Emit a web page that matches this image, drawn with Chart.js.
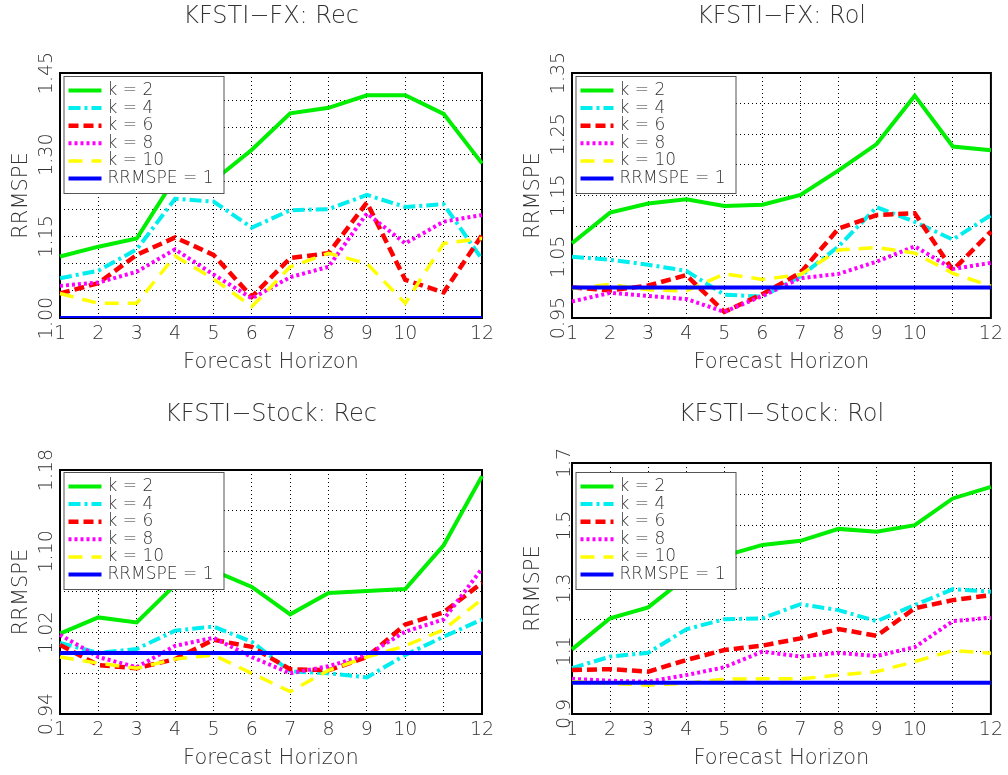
<!DOCTYPE html>
<html>
<head>
<meta charset="utf-8">
<script src="https://cdn.jsdelivr.net/npm/chart.js@4.4.1/dist/chart.umd.min.js"></script>
<style>
  html, body { margin: 0; padding: 0; background: #fff; overflow: hidden; }
  .panel { position: absolute; width: 504px; height: 396px; }
</style>
</head>
<body>
<div class="panel" style="left:0;top:0"><canvas id="fxRec" width="504" height="396"></canvas></div>
<div class="panel" style="left:504px;top:0"><canvas id="fxRol" width="504" height="396"></canvas></div>
<div class="panel" style="left:0;top:396px"><canvas id="stockRec" width="504" height="396"></canvas></div>
<div class="panel" style="left:504px;top:396px"><canvas id="stockRol" width="504" height="396"></canvas></div>
<script>
const horizons = [1, 2, 3, 4, 5, 6, 7, 8, 9, 10, 11, 12];
const refLine = [1, 1, 1, 1, 1, 1, 1, 1, 1, 1, 1, 1];

// KFSTI-FX, recursive
const fxRecK2 = [1.113, 1.131, 1.146, 1.257, 1.252, 1.309, 1.376, 1.386, 1.409, 1.409, 1.375, 1.284];
const fxRecK4 = [1.073, 1.087, 1.126, 1.219, 1.214, 1.166, 1.198, 1.200, 1.226, 1.204, 1.209, 1.108];
const fxRecK6 = [1.045, 1.064, 1.116, 1.148, 1.116, 1.039, 1.110, 1.119, 1.212, 1.070, 1.047, 1.152];
const fxRecK8 = [1.059, 1.065, 1.085, 1.126, 1.080, 1.036, 1.075, 1.094, 1.192, 1.137, 1.177, 1.189];
const fxRecK10 = [1.045, 1.027, 1.027, 1.114, 1.072, 1.021, 1.094, 1.119, 1.100, 1.027, 1.137, 1.146];

// KFSTI-FX, rolling
const fxRolK2 = [1.072, 1.122, 1.137, 1.144, 1.133, 1.135, 1.151, 1.191, 1.234, 1.313, 1.230, 1.224];
const fxRolK4 = [1.050, 1.045, 1.037, 1.027, 0.988, 0.985, 1.018, 1.067, 1.131, 1.107, 1.078, 1.118];
const fxRolK6 = [1.000, 0.995, 1.003, 1.020, 0.960, 0.989, 1.024, 1.096, 1.118, 1.121, 1.028, 1.091];
const fxRolK8 = [0.977, 0.991, 0.986, 0.981, 0.960, 0.986, 1.015, 1.022, 1.042, 1.067, 1.030, 1.040];
const fxRolK10 = [0.998, 1.005, 0.996, 0.994, 1.022, 1.013, 1.021, 1.061, 1.065, 1.056, 1.023, 1.002];

// KFSTI-Stock, recursive
const stRecK2 = [1.019, 1.035, 1.030, 1.067, 1.081, 1.065, 1.038, 1.059, 1.061, 1.063, 1.106, 1.174];
const stRecK4 = [1.010, 1.000, 1.004, 1.022, 1.026, 1.011, 0.982, 0.980, 0.976, 0.998, 1.016, 1.033];
const stRecK6 = [1.008, 0.988, 0.985, 0.994, 1.013, 1.006, 0.984, 0.983, 0.996, 1.028, 1.040, 1.069];
const stRecK8 = [1.018, 0.996, 0.986, 1.007, 1.015, 0.996, 0.980, 0.987, 0.998, 1.021, 1.033, 1.083];
const stRecK10 = [0.996, 0.990, 0.985, 0.994, 0.998, 0.980, 0.962, 0.983, 0.996, 1.007, 1.023, 1.053];

// KFSTI-Stock, rolling
const stRolK2 = [1.106, 1.205, 1.240, 1.336, 1.404, 1.439, 1.452, 1.490, 1.481, 1.502, 1.587, 1.624];
const stRolK4 = [1.046, 1.083, 1.095, 1.170, 1.202, 1.205, 1.250, 1.231, 1.196, 1.247, 1.298, 1.290];
const stRolK6 = [1.040, 1.043, 1.035, 1.072, 1.104, 1.118, 1.141, 1.171, 1.149, 1.237, 1.263, 1.279];
const stRolK8 = [1.012, 1.006, 1.003, 1.024, 1.049, 1.099, 1.083, 1.095, 1.085, 1.113, 1.196, 1.207];
const stRolK10 = [1.003, 0.998, 0.992, 0.998, 1.011, 1.012, 1.012, 1.024, 1.035, 1.067, 1.102, 1.094];

const seriesNames = ['k = 2', 'k = 4', 'k = 6', 'k = 8', 'k = 10', 'RRMSPE = 1'];
const seriesColors = ['#00ee00', '#00eeee', '#ff0000', '#ff00ff', '#ffff00', '#0000ff'];
const seriesDashes = [[], [12, 4, 3, 4], [10, 5], [3, 3], [14, 9], []];
const seriesWidths = [4, 4, 4.5, 4, 3.5, 4];

const FONT = "'DejaVu Sans', sans-serif";
const WEIGHT = 200;
const TEXT = '#333';

// black frame round the plot
const framePlugin = {
  id: 'frame',
  beforeDatasetsDraw(chart) {
    const { ctx, chartArea: a } = chart;
    ctx.save();
    ctx.strokeStyle = '#000';
    ctx.lineWidth = 2;
    ctx.strokeRect(a.left, a.top, a.right - a.left, a.bottom - a.top);
    ctx.restore();
  },
};

// boxed legend in the top left corner of the plot
const boxLegend = {
  id: 'boxLegend',
  afterDatasetsDraw(chart) {
    const { ctx, chartArea: a } = chart;
    const x0 = a.left + 3.5, y0 = 76, w = 160, h = 117;
    ctx.save();
    ctx.fillStyle = '#fff';
    ctx.fillRect(x0, y0, w, h);
    ctx.strokeStyle = '#555';
    ctx.lineWidth = 1;
    ctx.strokeRect(x0 + 0.5, y0 + 0.5, w, h);
    ctx.font = WEIGHT + ' 17px ' + FONT;
    ctx.textBaseline = 'middle';
    chart.data.datasets.forEach((ds, i) => {
      const y = y0 + 14.5 + i * 17.6;
      ctx.strokeStyle = ds.borderColor;
      ctx.lineWidth = ds.borderWidth;
      ctx.setLineDash(ds.borderDash);
      ctx.beginPath();
      ctx.moveTo(x0 + 5, y);
      ctx.lineTo(x0 + 38, y);
      ctx.stroke();
      ctx.setLineDash([]);
      ctx.fillStyle = TEXT;
      ctx.fillText(ds.label, x0 + 44, y);
    });
    ctx.restore();
  },
};

function makeChart(id, title, series, yMin, yMax, yStep, labelEvery, decimals, area) {
  const all = series.concat([refLine]);
  const datasets = all.map((d, i) => ({
    label: seriesNames[i],
    data: d,
    borderColor: seriesColors[i],
    borderWidth: seriesWidths[i],
    borderDash: seriesDashes[i],
    borderCapStyle: 'butt',
    pointRadius: 0,
    tension: 0,
    fill: false,
    order: all.length - 1 - i,
  }));
  return new Chart(document.getElementById(id), {
    type: 'line',
    data: { labels: horizons, datasets: datasets },
    options: {
      responsive: false,
      animation: false,
      devicePixelRatio: 1,
      layout: { padding: { left: area.left - 60, right: 504 - area.right, top: 0, bottom: 0 } },
      plugins: {
        legend: { display: false },
        tooltip: { enabled: false },
        title: {
          display: true,
          text: title,
          fullSize: false,
          color: TEXT,
          font: { family: FONT, size: 24, weight: WEIGHT },
          padding: { top: area.titleTop, bottom: area.top - area.titleTop - 28.8 },
        },
      },
      scales: {
        x: {
          grid: { color: '#000', lineWidth: 1, drawTicks: false },
          border: { display: false, dash: [1, 3] },
          ticks: {
            autoSkip: false,
            maxRotation: 0,
            padding: 5,
            color: TEXT,
            font: { family: FONT, size: 19, weight: WEIGHT },
            callback: function (v, i) { return horizons[i] === 11 ? '' : String(horizons[i]); },
          },
          title: {
            display: true,
            text: 'Forecast Horizon',
            color: TEXT,
            font: { family: FONT, size: 21, weight: WEIGHT },
            padding: { top: 0, bottom: 20.9 },
          },
          afterFit: (s) => { s.height = 396 - 318; },
        },
        y: {
          min: yMin,
          max: yMax,
          grid: { color: '#000', lineWidth: 1, drawTicks: false },
          border: { display: false, dash: [1, 3] },
          ticks: {
            stepSize: yStep,
            autoSkip: false,
            minRotation: 90,
            maxRotation: 90,
            crossAlign: 'center',
            padding: -8,
            color: TEXT,
            font: { family: FONT, size: 19, weight: WEIGHT },
            callback: function (v, i) { return i % labelEvery === 0 ? v.toFixed(decimals) : ''; },
          },
          title: {
            display: true,
            text: 'RRMSPE',
            color: TEXT,
            font: { family: FONT, size: 21, weight: WEIGHT },
            padding: { top: 9.1, bottom: 0 },
          },
          afterFit: (s) => { s.width = 60; },
        },
      },
    },
    plugins: [framePlugin, boxLegend],
  });
}

makeChart('fxRec', 'KFSTI\u2212FX: Rec', [fxRecK2, fxRecK4, fxRecK6, fxRecK8, fxRecK10],
  1.0, 1.45, 0.05, 3, 2, { left: 60, right: 482, top: 73, titleTop: 2.3 });
makeChart('fxRol', 'KFSTI\u2212FX: Rol', [fxRolK2, fxRolK4, fxRolK6, fxRolK8, fxRolK10],
  0.95, 1.35, 0.05, 2, 2, { left: 68, right: 489, top: 73, titleTop: 2.3 });
makeChart('stockRec', 'KFSTI\u2212Stock: Rec', [stRecK2, stRecK4, stRecK6, stRecK8, stRecK10],
  0.94, 1.18, 0.04, 2, 2, { left: 60, right: 482, top: 74, titleTop: 4.3 });
makeChart('stockRol', 'KFSTI\u2212Stock: Rol', [stRolK2, stRolK4, stRolK6, stRolK8, stRolK10],
  0.9, 1.7, 0.1, 2, 1, { left: 68, right: 489, top: 67, titleTop: 4.3 });
</script>
</body>
</html>
